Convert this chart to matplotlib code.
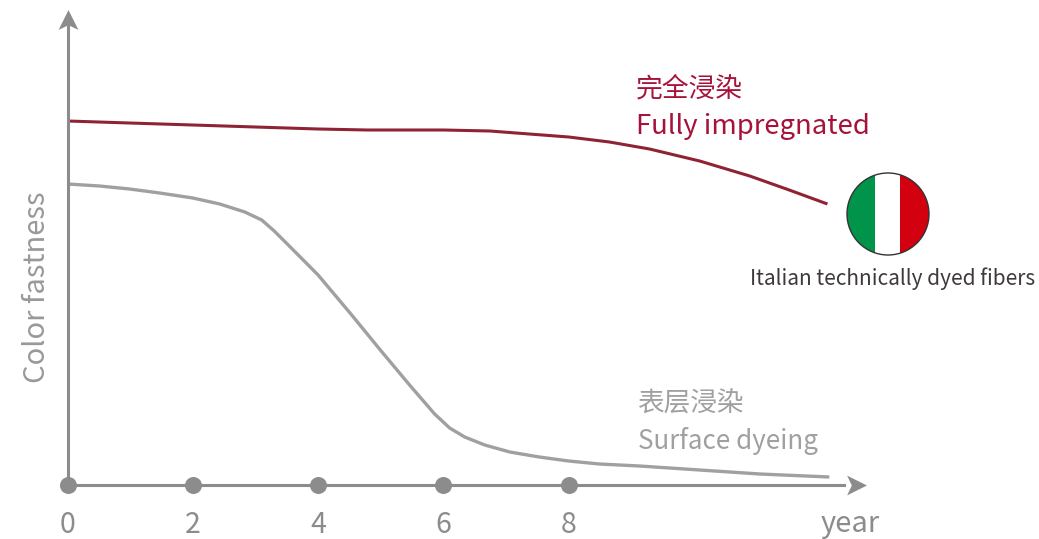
import matplotlib
matplotlib.use("Agg")
import matplotlib.pyplot as plt
from matplotlib.patches import Circle

plt.rcParams["font.family"] = ["Noto Sans CJK SC", "DejaVu Sans"]

# years on the x axis, colour fastness in arbitrary units
tick_years = [0, 2, 4, 6, 8]

fully_years = [0, 0.99, 2, 3, 4, 4.79, 6, 6.74, 7.37, 8, 8.65, 9.29, 10.09, 10.89, 11.52, 12.13]
fully_values = [3.64, 3.62, 3.60, 3.58, 3.56, 3.55, 3.55, 3.54, 3.51, 3.48, 3.43, 3.36, 3.24, 3.09, 2.95, 2.81]

surface_years = [0, 0.51, 0.99, 1.47, 2, 2.43, 2.83, 3.1, 3.3, 3.54, 4, 4.51, 4.98, 5.46, 5.86, 6.1,
                 6.34, 6.66, 7.06, 7.53, 8, 8.49, 9.13, 10.09, 11.05, 12.16]
surface_values = [3.01, 2.99, 2.96, 2.92, 2.87, 2.81, 2.73, 2.65, 2.54, 2.39, 2.10, 1.72, 1.36, 1.00, 0.71, 0.57,
                  0.48, 0.40, 0.33, 0.28, 0.24, 0.21, 0.19, 0.15, 0.11, 0.08]

GREY = "#8c8c8c"

fig = plt.figure(figsize=(10.39, 5.39), dpi=100)
ax = fig.add_axes([0, 0, 1, 1])
ax.set_xlim(-67.5 / 62.65, (1039 - 67.5) / 62.65)
ax.set_ylim(-0.54, 4.85)

for lado in ["top", "right"]:
    ax.spines[lado].set_visible(False)
ax.spines["left"].set_position(("data", 0))
ax.spines["bottom"].set_position(("data", 0))
ax.spines["left"].set_bounds(0, 4.6)
ax.spines["bottom"].set_bounds(0, 12.4)
for lado in ["left", "bottom"]:
    ax.spines[lado].set_color(GREY)
    ax.spines[lado].set_linewidth(2.2)

ax.set_yticks([])
ax.set_xticks(tick_years)
ax.set_xticklabels([str(a) for a in tick_years])
ax.tick_params(axis="x", length=0, pad=18, labelsize=20.5, labelcolor=GREY)

# arrow heads at the end of both axes
ponta_y = [(0, 1), (0.95, -0.9), (0, -0.45), (-0.95, -0.9)]
ponta_x = [(1, 0), (-0.9, 0.95), (-0.45, 0), (-0.9, -0.95)]
ax.plot([0], [4.65], marker=ponta_y, markersize=15, color=GREY, mew=0)
ax.plot([12.59], [0], marker=ponta_x, markersize=15, color=GREY, mew=0, clip_on=False)

ax.scatter(tick_years, [0] * len(tick_years), s=150, color=GREY, zorder=3, linewidths=0)

ax.plot(fully_years, fully_values, color="#8f2333", linewidth=2.2, solid_capstyle="butt")
ax.plot(surface_years, surface_values, color="#a0a0a0", linewidth=2.4, solid_capstyle="butt")

fig.text(37 / 1039, 1 - 287 / 539, "Color fastness", rotation=90, ha="center", va="center",
         fontsize=21, color="#999999")
fig.text(850 / 1039, 1 - 524 / 539, "year", ha="center", va="center", fontsize=21, color=GREY)

fig.text(636 / 1039, 1 - 89 / 539, "完全浸染", ha="left", va="center", fontsize=19.3, color="#a6123a")
fig.text(635.5 / 1039, 1 - 127 / 539, "Fully impregnated", ha="left", va="center", fontsize=19.8, color="#a6123a")
fig.text(637.5 / 1039, 1 - 404 / 539, "表层浸染", ha="left", va="center", fontsize=19.2, color="#a0a0a0")
fig.text(638 / 1039, 1 - 441 / 539, "Surface dyeing", ha="left", va="center", fontsize=18.7, color="#a0a0a0")
fig.text(892.5 / 1039, 1 - 279 / 539, "Italian technically dyed fibers", ha="center", va="center",
         fontsize=15, color="#3e3a39")

# flag in its own small axes so it stays round
flag = fig.add_axes([846 / 1039, 1 - 256 / 539, 84 / 1039, 84 / 539])
flag.set_xlim(0, 84)
flag.set_ylim(0, 84)
flag.axis("off")
circulo = Circle((42, 42), 41, facecolor="none", edgecolor="#333333", linewidth=1, zorder=2)
flag.add_patch(circulo)
for inicio, largura, cor in [(1, 28, "#00944a"), (29, 25, "#ffffff"), (54, 29, "#d3000f")]:
    barra = flag.bar(inicio, 84, width=largura, align="edge", color=cor, zorder=1)[0]
    barra.set_clip_path(circulo)

fig.savefig("out.png", dpi=100)
plt.close(fig)
